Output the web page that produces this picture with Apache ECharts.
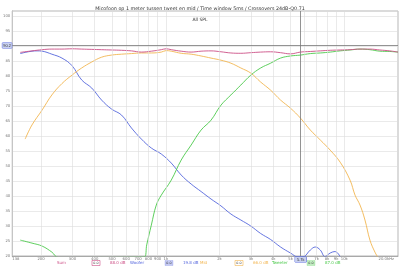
<!DOCTYPE html>
<html><head><meta charset="utf-8">
<script src="https://cdn.jsdelivr.net/npm/echarts@6/dist/echarts.min.js"></script>
<style>html,body{margin:0;padding:0;background:#fff}#c{width:400px;height:266px}</style>
</head><body><div id="c"></div>
<script>
// ---- data (frequency in Hz, level in dB) ----
var sumFreq = [153,178,203,230,262,298,338,385,437,497,565,642,730,830,944,1005,1073,1220,1387,1577,1793,2038,2317,2633,2993,3402,3867,4396,4996,5679,6455,7337,8340,9480,10776,12250,13925,15830,18000,20000];
var sumDb   = [87.9,88.4,88.8,89.0,89.0,89.1,89.0,88.9,88.8,88.7,88.6,88.4,88.0,88.3,88.8,89.1,88.8,88.3,88.0,88.3,88.4,88.1,87.7,87.6,87.8,88.0,88.1,87.8,87.4,88.0,88.2,88.4,88.6,88.7,88.8,89.0,89.0,88.7,88.4,88.0];
var wooferFreq = [153,163,178,190,203,230,262,298,338,385,437,497,565,642,730,830,944,1073,1220,1387,1577,1793,2038,2317,2633,2993,3402,3867,4396,4996,5500,5900,6455,6880,7337,7800,8340,8890,9480];
var wooferDb   = [87.5,87.9,88.3,88.4,88.3,87.3,86.0,83.5,78.7,76.0,72.0,69.0,67.0,62.7,59.0,56.0,54.0,51.0,47.0,44.0,41.5,39.0,36.7,34.0,32.0,30.0,27.5,25.5,23.0,21.0,19.7,19.8,22.0,23.0,22.0,19.8,21.0,21.5,19.8];
var midFreq = [163,178,203,230,262,298,338,385,437,497,565,642,730,830,944,1005,1073,1220,1387,1577,1793,2038,2317,2633,2993,3402,3867,4396,4996,5679,6455,7337,8340,9480,10776,11490,12250,13060,13925,14850,15450];
var midDb   = [59.0,63.7,68.7,73.7,77.5,80.3,82.7,84.7,86.3,87.0,87.3,87.5,87.7,87.7,88.0,88.5,88.3,87.6,87.3,86.7,86.0,85.3,84.3,82.7,81.0,78.0,75.3,72.0,69.3,66.0,62.0,58.7,55.3,51.3,45.3,40.3,37.0,32.0,25.3,21.3,19.5];
var tweeterFreq = [153,178,203,230,250,758,782,830,885,944,1073,1220,1387,1577,1793,2038,2317,2633,2993,3402,3867,4396,4996,5679,6455,7337,8340,9480,10776,12250,13925,15830,18000,20000];
var tweeterDb   = [25.3,24.3,23.3,21.3,19.5,19.7,23.7,30.3,37.0,40.3,45.3,52.0,57.0,62.0,65.3,70.3,73.7,77.0,80.3,82.7,84.3,86.0,86.7,87.0,87.5,87.7,88.0,88.4,88.7,89.0,88.8,88.3,88.2,88.0];
var xTicks = [138,200,300,400,500,600,700,800,900,1000,2000,3000,4000,5000,6000,7000,8000,9000,10000,20000];
var xTickLabels = ['138','200','300','400','500','600','700','800','900','1k','2k','3k','4k','5k','6k','7k','8k','9k','10k','20.0kHz'];
var cursorFreq = 5700, cursorDb = 90.2;
var seriesNames = ['Sum','Woofer','Mid','Tweeter'];
var seriesColors = ['#cc4f86','#5566dd','#f2b550','#4cc94c'];

function pairs(f, d){ return f.map(function(v,i){ return [v, d[i]]; }); }

var chart = echarts.init(document.getElementById('c'), null, {renderer:'canvas'});

var gridLines = xTicks.map(function(v,i){
  var lbl = {formatter: xTickLabels[i]};
  if (i === xTicks.length-1) { lbl.align = 'right'; lbl.offset = [-4, 0]; }
  if (i === 0) { lbl.align = 'left'; lbl.offset = [0, 0]; }
  return {xAxis: v, label: lbl};
});

var series = [
  {name: seriesNames[1], type:'line', data: pairs(wooferFreq, wooferDb)},
  {name: seriesNames[2], type:'line', data: pairs(midFreq, midDb)},
  {name: seriesNames[3], type:'line', data: pairs(tweeterFreq, tweeterDb)},
  {name: seriesNames[0], type:'line', data: pairs(sumFreq, sumDb)}
].map(function(s){
  var idx = seriesNames.indexOf(s.name);
  s.smooth = 0.4; s.showSymbol = false; s.symbol = 'none'; s.clip = true;
  s.lineStyle = {width: 0.9, color: seriesColors[idx]};
  s.itemStyle = {color: seriesColors[idx]};
  s.silent = true; s.animation = false; s.z = 3;
  return s;
});
// gridlines + x labels
series.unshift({
  type:'line', data: [], silent:true, animation:false,
  markLine: {
    silent:true, symbol:'none', animation:false,
    lineStyle:{color:'#dcdcdc', width:0.6, type:'solid'},
    label:{show:true, position:'start', color:'#777', fontSize:3.8, distance:1.5, fontFamily:'DejaVu Sans'},
    data: gridLines
  }
});
// cursor
series.push({
  type:'line', data: [], silent:true, animation:false, z:4,
  markLine: {
    silent:true, symbol:'none', animation:false,
    lineStyle:{color:'#777', width:0.8, type:'solid'},
    data: [
      {xAxis: cursorFreq, label:{show:true, position:'start', formatter:'5.7k', backgroundColor:'#c8d0f0', borderColor:'#5566dd', borderWidth:0.5, padding:[0.5,2], color:'#333', fontSize:3.8, distance:1}},
      {yAxis: cursorDb, label:{show:true, position:'start', formatter:'90.2', backgroundColor:'#c8d0f0', borderColor:'#5566dd', borderWidth:0.5, padding:[0.5,1], color:'#333', fontSize:3.8, distance:0.5}}
    ]
  }
});

var legendGraphics = [];
var legendX = [57, 130, 200, 272];
var legendBoxText = ['0.0', '0.0', '0.0', '0.0'];
var legendValText = ['88.0 dB', '19.8 dB', '66.0 dB', '87.0 dB'];
seriesNames.forEach(function(n, i){
  var c = seriesColors[i], x0 = legendX[i];
  legendGraphics.push({type:'text', left: x0, top: 261, style:{text: n, fill: c, fontSize: 4, fontFamily:'DejaVu Sans'}});
  legendGraphics.push({type:'rect', shape:{x: x0+35, y:260.5, width:8, height:5}, style:{fill: i===1||i===3 ? c : '#fff', opacity: i===1||i===3 ? 0.35 : 1, stroke: c, lineWidth:0.6}});
  legendGraphics.push({type:'text', left: x0+36.3, top: 261.3, style:{text: legendBoxText[i], fill: '#333', fontSize: 3.3, fontFamily:'DejaVu Sans'}});
  legendGraphics.push({type:'text', left: x0+53, top: 261, style:{text: legendValText[i], fill: c, fontSize: 4, fontFamily:'DejaVu Sans'}});
});

chart.setOption({
  animation:false,
  backgroundColor:'#ffffff',
  title: [
    {text:'Micofoon op 1 meter tussen tweet en mid / Time window 5ms / Crossovers 24dB-Q0.71', left:'center', top:1, textStyle:{fontSize:4.8, fontWeight:'normal', color:'#333', fontFamily:'DejaVu Sans'}},
    {text:'All SPL', left:'center', top:12, textStyle:{fontSize:4.5, fontWeight:'normal', color:'#333', fontFamily:'DejaVu Sans'}}
  ],
  grid:{left:10, right:2, top:11, bottom:10, show:true, borderColor:'#888', borderWidth:0.6},
  xAxis:{type:'log', logBase:10, min:138, max:20000,
    axisLine:{show:true, lineStyle:{color:'#888', width:0.6}}, axisTick:{show:false}, axisLabel:{show:false}, splitLine:{show:false}},
  yAxis:{type:'value', min:20, max:101.7, interval:5,
    axisLine:{show:true, lineStyle:{color:'#888', width:0.6}}, axisTick:{show:false},
    axisLabel:{color:'#777', fontSize:3.8, margin:2, showMaxLabel:false, fontFamily:'DejaVu Sans'},
    splitLine:{show:true, lineStyle:{color:'#dcdcdc', width:0.6}}},
  graphic: legendGraphics,
  series: series
});
</script>
</body></html>
